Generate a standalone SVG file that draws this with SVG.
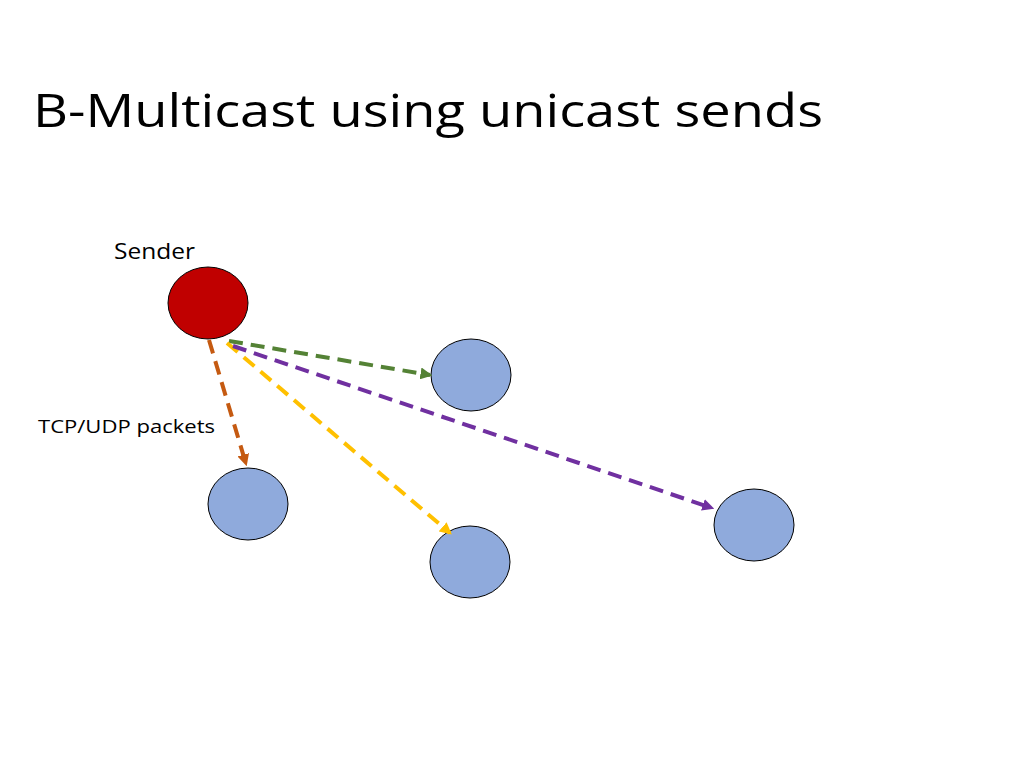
<svg xmlns="http://www.w3.org/2000/svg" width="1024" height="768" viewBox="0 0 1024 768">
<style>
.t{font-family:"Open Sans","Noto Sans",sans-serif;fill:#000}
.n{fill:#8faadc;stroke:#000;stroke-width:1}
.c{fill:none;stroke-width:4;stroke-dasharray:14,8}
</style>
<defs>
<marker id="mo" viewBox="0 0 10 10" refX="8" refY="5" markerWidth="3" markerHeight="3" orient="auto"><path d="M0,0L10,5L0,10z" fill="#c55a11"/></marker>
<marker id="mg" viewBox="0 0 10 10" refX="8" refY="5" markerWidth="3" markerHeight="3" orient="auto"><path d="M0,0L10,5L0,10z" fill="#548235"/></marker>
<marker id="my" viewBox="0 0 10 10" refX="8" refY="5" markerWidth="3" markerHeight="3" orient="auto"><path d="M0,0L10,5L0,10z" fill="#ffc000"/></marker>
<marker id="mp" viewBox="0 0 10 10" refX="8" refY="5" markerWidth="3" markerHeight="3" orient="auto"><path d="M0,0L10,5L0,10z" fill="#7030a0"/></marker>
</defs>
<rect width="1024" height="768" fill="#fff"/>
<text class="t" x="33" y="127" font-size="46" textLength="790" lengthAdjust="spacingAndGlyphs">B-Multicast using unicast sends</text>
<text class="t" x="114" y="259" font-size="21" textLength="81" lengthAdjust="spacingAndGlyphs">Sender</text>
<text class="t" x="38" y="433" font-size="18" textLength="177" lengthAdjust="spacingAndGlyphs">TCP/UDP packets</text>
<g id="sender"><ellipse cx="208" cy="303" rx="40" ry="36" fill="#c00000" stroke="#000"/></g>
<g id="n1"><ellipse class="n" cx="471" cy="375" rx="40" ry="36"/></g>
<g id="n2"><ellipse class="n" cx="248" cy="504" rx="40" ry="36"/></g>
<g id="n3"><ellipse class="n" cx="470" cy="562" rx="40" ry="36"/></g>
<g id="n4"><ellipse class="n" cx="754" cy="525" rx="40" ry="36"/></g>
<g id="connectors">
<line class="c" x1="209" y1="340" x2="246" y2="464" stroke="#c55a11" marker-end="url(#mo)"/>
<line class="c" x1="229" y1="341" x2="430" y2="375" stroke="#548235" marker-end="url(#mg)"/>
<line class="c" x1="227" y1="343" x2="450" y2="533" stroke="#ffc000" marker-end="url(#my)"/>
<line class="c" x1="233" y1="346" x2="712" y2="508" stroke="#7030a0" marker-end="url(#mp)"/>
</g>
</svg>
